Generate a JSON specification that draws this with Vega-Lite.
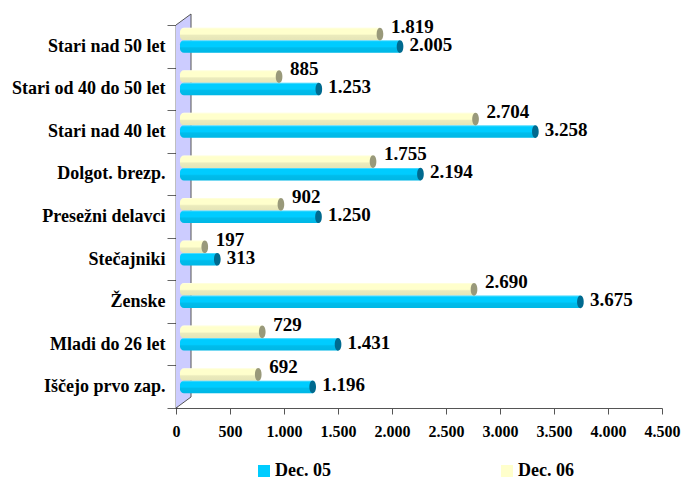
{
"$schema":"https://vega.github.io/schema/vega-lite/v6.json",
"width":486,"height":394,
"autosize":"none",
"padding":{"left":176,"top":14,"right":20,"bottom":72},
"background":"white",
"config":{"view":{"stroke":null},"font":"Liberation Serif","locale":{"number":{"decimal":",","thousands":".","grouping":[3],"currency":["","€"]}}},
"datasets":{
"bars":[
{"cat":"Stari nad 50 let","series":"Dec. 06","value":1819,"base":0},{"cat":"Stari nad 50 let","series":"Dec. 05","value":2005,"base":0},
{"cat":"Stari od 40 do 50 let","series":"Dec. 06","value":885,"base":0},{"cat":"Stari od 40 do 50 let","series":"Dec. 05","value":1253,"base":0},
{"cat":"Stari nad 40 let","series":"Dec. 06","value":2704,"base":0},{"cat":"Stari nad 40 let","series":"Dec. 05","value":3258,"base":0},
{"cat":"Dolgot. brezp.","series":"Dec. 06","value":1755,"base":0},{"cat":"Dolgot. brezp.","series":"Dec. 05","value":2194,"base":0},
{"cat":"Presežni delavci","series":"Dec. 06","value":902,"base":0},{"cat":"Presežni delavci","series":"Dec. 05","value":1250,"base":0},
{"cat":"Stečajniki","series":"Dec. 06","value":197,"base":0},{"cat":"Stečajniki","series":"Dec. 05","value":313,"base":0},
{"cat":"Ženske","series":"Dec. 06","value":2690,"base":0},{"cat":"Ženske","series":"Dec. 05","value":3675,"base":0},
{"cat":"Mladi do 26 let","series":"Dec. 06","value":729,"base":0},{"cat":"Mladi do 26 let","series":"Dec. 05","value":1431,"base":0},
{"cat":"Iščejo prvo zap.","series":"Dec. 06","value":692,"base":0},{"cat":"Iščejo prvo zap.","series":"Dec. 05","value":1196,"base":0}
],
"wall":[{"d":0,"lo":0,"hi":383,"o":1},{"d":139,"lo":11,"hi":394,"o":2}],
"wallEdge":[{"d":0,"h":0,"o":1},{"d":139,"h":11,"o":2},{"d":139,"h":394,"o":3},{"d":0,"h":383,"o":4}]
},
"resolve":{"scale":{"y":"independent"}},
"layer":[
{"layer":[
{"data":{"name":"wall"},"mark":{"type":"area","fill":"#ccccff","stroke":null},
"encoding":{"x":{"field":"d","type":"quantitative","scale":{"domain":[0,4500],"nice":false},
"axis":{"title":null,"values":[0,500,1000,1500,2000,2500,3000,3500,4000,4500],"format":",d","grid":false,"domainColor":"#555555","tickColor":"#555555","tickSize":6,"labelFontSize":16,"labelFontWeight":"bold","labelColor":"#000000","labelPadding":9,"labelFont":"Liberation Serif","labelFlush":false}},
"y":{"field":"lo","type":"quantitative","scale":{"domain":[0,394],"nice":false},"axis":null},"y2":{"field":"hi"}}},
{"data":{"name":"wallEdge"},"mark":{"type":"line","stroke":"#555555","strokeWidth":1},
"encoding":{"x":{"field":"d","type":"quantitative"},"y":{"field":"h","type":"quantitative"},"order":{"field":"o","type":"quantitative"}}}
]},
{"data":{"name":"bars"},
"encoding":{
"y":{"field":"cat","type":"nominal","sort":["Stari nad 50 let","Stari od 40 do 50 let","Stari nad 40 let","Dolgot. brezp.","Presežni delavci","Stečajniki","Ženske","Mladi do 26 let","Iščejo prvo zap."],
"scale":{"type":"band","range":[11,394],"paddingInner":0,"paddingOuter":0},
"axis":{"title":null,"orient":"left","domain":true,"domainColor":"#000000","domainWidth":1.5,"ticks":true,"tickBand":"extent","tickColor":"#666666","tickSize":9,"tickWidth":1,"labelFontSize":18,"labelFontWeight":"bold","labelColor":"#000000","labelPadding":2,"labelFont":"Liberation Serif","grid":false,"labelLimit":200}}
},
"layer":[
{"mark":{"type":"bar","size":12.5,"xOffset":7.5,"x2Offset":4,"yOffset":-12.3,"y2Offset":-12.3,"cornerRadiusTopLeft":4,"cornerRadiusBottomLeft":4},
"transform":[{"filter":"datum.series==='Dec. 06'"}],
"encoding":{"x":{"field":"value","type":"quantitative","stack":null},"x2":{"field":"base"},
"color":{"field":"series","type":"nominal","scale":{"domain":["Dec. 05","Dec. 06"],"range":["#00ccff","#ffffcc"]},
"legend":{"title":null,"orient":"none","legendX":79,"legendY":448,"direction":"horizontal","columns":2,"columnPadding":167,"symbolType":"square","symbolSize":144,"symbolStrokeWidth":0,"labelFontSize":18,"labelFontWeight":"bold","labelColor":"#000000","labelFont":"Liberation Serif","labelOffset":2}}}},
{"mark":{"type":"bar","size":12.5,"xOffset":7.5,"x2Offset":4,"yOffset":0.2,"y2Offset":0.2,"cornerRadiusTopLeft":4,"cornerRadiusBottomLeft":4},
"transform":[{"filter":"datum.series==='Dec. 05'"}],
"encoding":{"x":{"field":"value","type":"quantitative","stack":null},"x2":{"field":"base"},"color":{"field":"series","type":"nominal"}}},
{"mark":{"type":"bar","size":12.5,"xOffset":7.5,"x2Offset":4,"yOffset":-12.3,"y2Offset":-12.3,"cornerRadiusTopLeft":4,"cornerRadiusBottomLeft":4,
"fill":{"gradient":"linear","x1":0,"y1":0,"x2":0,"y2":1,"stops":[{"offset":0,"color":"rgba(255,255,255,0.45)"},{"offset":0.12,"color":"rgba(255,255,255,0)"},{"offset":0.5,"color":"rgba(0,0,0,0)"},{"offset":0.62,"color":"rgba(0,0,0,0.08)"},{"offset":1,"color":"rgba(0,0,0,0.1)"}]}},
"transform":[{"filter":"datum.series==='Dec. 06'"}],
"encoding":{"x":{"field":"value","type":"quantitative","stack":null},"x2":{"field":"base"}}},
{"mark":{"type":"bar","size":12.5,"xOffset":7.5,"x2Offset":4,"yOffset":0.2,"y2Offset":0.2,"cornerRadiusTopLeft":4,"cornerRadiusBottomLeft":4,
"fill":{"gradient":"linear","x1":0,"y1":0,"x2":0,"y2":1,"stops":[{"offset":0,"color":"rgba(255,255,255,0.45)"},{"offset":0.12,"color":"rgba(255,255,255,0)"},{"offset":0.5,"color":"rgba(0,0,0,0)"},{"offset":0.62,"color":"rgba(0,0,0,0.08)"},{"offset":1,"color":"rgba(0,0,0,0.1)"}]}},
"transform":[{"filter":"datum.series==='Dec. 05'"}],
"encoding":{"x":{"field":"value","type":"quantitative","stack":null},"x2":{"field":"base"}}},
{"transform":[{"filter":"datum.series==='Dec. 05'"}],
"mark":{"type":"point","filled":true,"shape":"M0,-1C0.7,-1 0.7,1 0,1C-0.7,1 -0.7,-1 0,-1Z","size":160,"xOffset":7.5,"yOffset":0.2,"fill":"#006a8f","opacity":1},
"encoding":{"x":{"field":"value","type":"quantitative"}}},
{"transform":[{"filter":"datum.series==='Dec. 06'"}],
"mark":{"type":"point","filled":true,"shape":"M0,-1C0.7,-1 0.7,1 0,1C-0.7,1 -0.7,-1 0,-1Z","size":160,"xOffset":7.5,"yOffset":-12.3,"fill":"#99997a","opacity":1},
"encoding":{"x":{"field":"value","type":"quantitative"}}},
{"transform":[{"filter":"datum.series==='Dec. 05'"}],
"mark":{"type":"text","align":"left","baseline":"middle","fontSize":19,"fontWeight":"bold","font":"Liberation Serif","fill":"#000000","dx":17,"dy":-1.5},
"encoding":{"x":{"field":"value","type":"quantitative"},"text":{"field":"value","type":"quantitative","format":",d"}}},
{"transform":[{"filter":"datum.series==='Dec. 06'"}],
"mark":{"type":"text","align":"left","baseline":"middle","fontSize":19,"fontWeight":"bold","font":"Liberation Serif","fill":"#000000","dx":18.5,"dy":-19.5},
"encoding":{"x":{"field":"value","type":"quantitative"},"text":{"field":"value","type":"quantitative","format":",d"}}}
]}
]
}
